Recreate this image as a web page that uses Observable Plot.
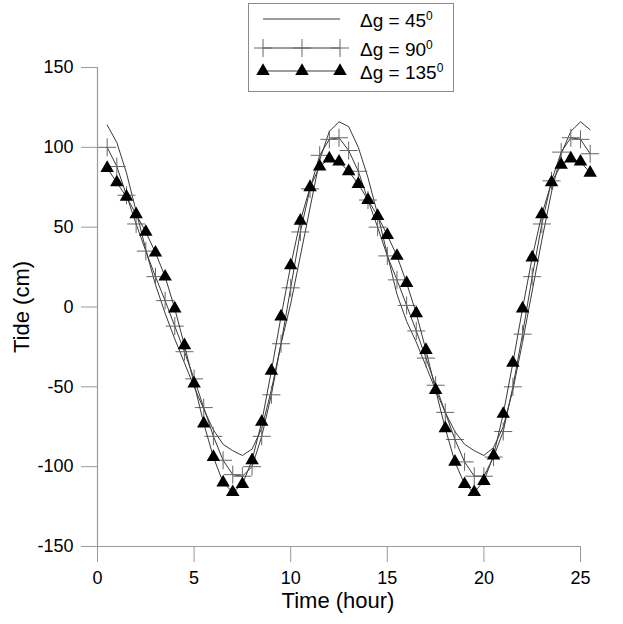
<!DOCTYPE html>
<html>
<head>
<meta charset="utf-8">
<script src="https://cdn.jsdelivr.net/npm/d3@7"></script>
<script src="https://cdn.jsdelivr.net/npm/@observablehq/plot@0.6"></script>
<style>
  html, body { margin: 0; padding: 0; background: #fff; overflow: hidden; }
  #wrap { position: relative; width: 623px; height: 624px; font-family: "Liberation Sans", Arial, sans-serif; }
  #legend { position: absolute; left: 248px; top: 3px; pointer-events: none; }
</style>
</head>
<body>
<div id="wrap"></div>
<script>
// ---- data ----
const hours = [0.5, 1, 1.5, 2, 2.5, 3, 3.5, 4, 4.5, 5,
  5.5, 6, 6.5, 7, 7.5, 8, 8.5, 9, 9.5, 10,
  10.5, 11, 11.5, 12, 12.5, 13, 13.5, 14, 14.5, 15,
  15.5, 16, 16.5, 17, 17.5, 18, 18.5, 19, 19.5, 20,
  20.5, 21, 21.5, 22, 22.5, 23, 23.5, 24, 24.5, 25,
  25.5];
const tide45 = [114, 103, 84, 60, 36, 14, -4, -20, -35, -50,
  -64, -77, -86, -90, -93, -89, -76, -52, -23, 2,
  32, 62, 92, 110, 116, 113, 100, 81, 58, 33,
  8, -9, -22, -37, -52, -66, -78, -86, -90, -93,
  -88, -75, -52, -22, 10, 42, 72, 96, 110, 116,
  111];
const tide90 = [100, 88, 70, 52, 35, 19, 4, -12, -28, -45,
  -63, -81, -96, -105, -106, -100, -81, -55, -23, 12,
  47, 74, 95, 105, 106, 98, 85, 67, 50, 32,
  17, 1, -15, -32, -49, -66, -83, -97, -106, -106,
  -94, -78, -50, -17, 19, 52, 79, 97, 106, 105,
  96];
const tide135 = [87, 78, 69, 58, 47, 34, 19, -1, -24, -48,
  -73, -94, -110, -116, -111, -96, -72, -40, -6, 26,
  54, 75, 88, 93, 91, 85, 77, 67, 57, 45,
  32, 15, -4, -27, -52, -76, -97, -111, -116, -109,
  -93, -67, -35, -1, 31, 58, 78, 89, 93, 91,
  84];
const xTicks = [0, 5, 10, 15, 20, 25];
const yTicks = [-150, -100, -50, 0, 50, 100, 150];
const seriesNames = ["45", "90", "135"];
const xTitle = "Time (hour)";
const yTitle = "Tide (cm)";

const d45 = hours.map((t, i) => ({t, v: tide45[i]}));
const d90 = hours.map((t, i) => ({t, v: tide90[i]}));
const d135 = hours.map((t, i) => ({t, v: tide135[i]}));

const plusSymbol = {
  draw(ctx, size) {
    const r = Math.sqrt(size / Math.PI);
    ctx.moveTo(-r, 0); ctx.lineTo(r, 0);
    ctx.moveTo(0, -r); ctx.lineTo(0, r);
  }
};

const axisGray = "#9a9a9a";
const lineColor = "#3a3a3a";
const fmt = d => String(d);

const chart = Plot.plot({
  width: 623,
  height: 624,
  marginTop: 67,
  marginBottom: 78,
  marginLeft: 97,
  marginRight: 43,
  style: {fontFamily: "'Liberation Sans', Arial, sans-serif", fontSize: "18px", background: "white", overflow: "visible"},
  x: {domain: [0, 25]},
  y: {domain: [-150, 150]},
  marks: [
    Plot.ruleX([0], {stroke: axisGray, strokeWidth: 1.2}),
    Plot.ruleY([-150], {stroke: axisGray, strokeWidth: 1.2}),
    Plot.axisX(xTicks, {tickSize: 16, tickPadding: 9, fontSize: 18, label: null, tickFormat: fmt, stroke: axisGray, fill: "black"}),
    Plot.axisY(yTicks, {tickSize: 16, tickPadding: 8, fontSize: 18, label: null, tickFormat: fmt, stroke: axisGray, fill: "black"}),
    Plot.line(d45, {x: "t", y: "v", stroke: lineColor, strokeWidth: 1, clip: false}),
    Plot.line(d90, {x: "t", y: "v", stroke: lineColor, strokeWidth: 1, clip: false}),
    Plot.dot(d90, {x: "t", y: "v", symbol: plusSymbol, r: 9, stroke: "#666", strokeWidth: 1, fill: "none"}),
    Plot.line(d135, {x: "t", y: "v", stroke: lineColor, strokeWidth: 1, clip: false}),
    Plot.dot(d135, {x: "t", y: "v", symbol: "triangle", r: 5, fill: "black", stroke: "none"})
  ]
});

const wrap = document.getElementById("wrap");
wrap.appendChild(chart);

const svg = d3.select(chart);
svg.append("text")
  .attr("x", 338).attr("y", 608)
  .attr("text-anchor", "middle")
  .attr("font-size", 22)
  .attr("fill", "black")
  .text(xTitle);
svg.append("text")
  .attr("transform", "translate(29,307) rotate(-90)")
  .attr("text-anchor", "middle")
  .attr("font-size", 22)
  .attr("fill", "black")
  .text(yTitle);

// ---- legend ----
const lg = d3.select(wrap).append("svg")
  .attr("id", "legend")
  .attr("width", 207).attr("height", 90)
  .style("font-family", "'Liberation Sans', Arial, sans-serif");
lg.append("rect").attr("x", 0.5).attr("y", 0.5).attr("width", 205).attr("height", 88)
  .attr("fill", "white").attr("stroke", "#8a8a8a");
const rows = [16, 45, 68];
const sx = [15, 54, 92];
rows.forEach((ry, i) => {
  lg.append("line").attr("x1", sx[0]).attr("x2", sx[2]).attr("y1", ry).attr("y2", ry)
    .attr("stroke", lineColor).attr("stroke-width", 1);
  if (i === 1) {
    sx.forEach(px => {
      lg.append("path").attr("d", `M${px - 9},${ry}H${px + 9}M${px},${ry - 9}V${ry + 9}`)
        .attr("stroke", "#666").attr("fill", "none");
    });
  }
  if (i === 2) {
    const tri = d3.symbol(d3.symbolTriangle, Math.PI * 25)();
    sx.forEach(px => {
      lg.append("path").attr("d", tri).attr("transform", `translate(${px},${ry})`).attr("fill", "black");
    });
  }
  const t = lg.append("text").attr("x", 112).attr("y", ry + 8).attr("font-size", 19).attr("fill", "black");
  t.append("tspan").text("\u0394g = " + seriesNames[i]);
  t.append("tspan").attr("dy", -7).attr("font-size", 12).text("0");
});
</script>
</body>
</html>
